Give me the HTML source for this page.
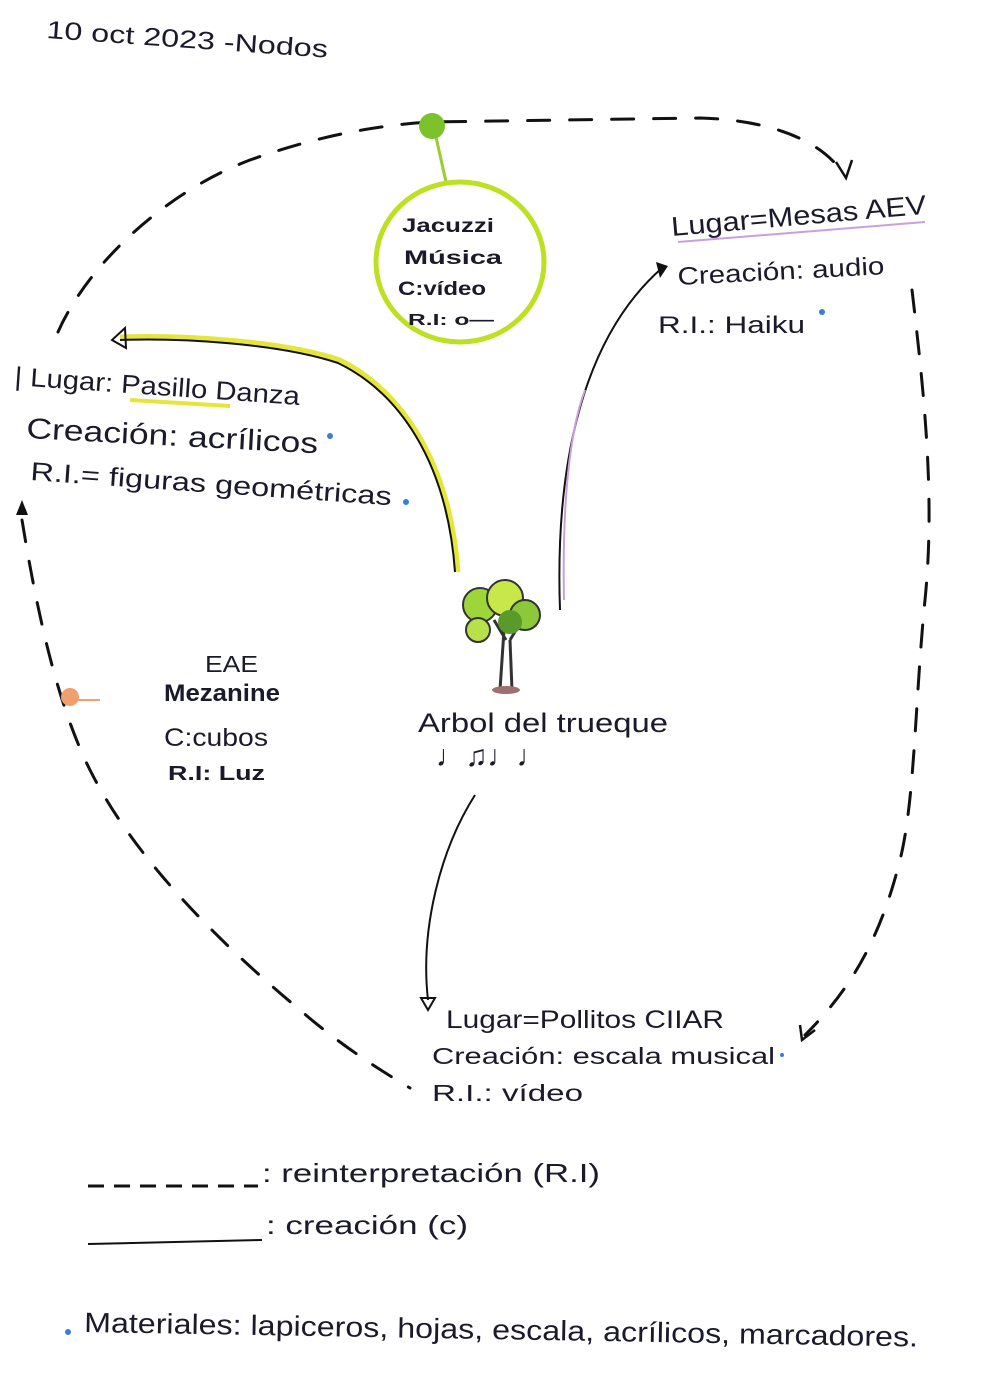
<!DOCTYPE html>
<html><head><meta charset="utf-8"><style>
html,body{margin:0;padding:0;background:#fff;}
svg{display:block}
text{font-family:"Liberation Sans",sans-serif;fill:#1a1a2a;}
</style></head><body>
<svg width="982" height="1386" viewBox="0 0 982 1386" xmlns="http://www.w3.org/2000/svg">
<rect width="982" height="1386" fill="#fff"/>
<text x="46" y="38" font-size="25" textLength="282" lengthAdjust="spacingAndGlyphs" transform="rotate(4 46 38)">10 oct 2023 -Nodos</text>

<g fill="none" stroke="#111" stroke-width="3" stroke-dasharray="22 20" stroke-linecap="round">
<path d="M58,332 C90,260 170,190 250,160 C320,135 380,125 430,122 L700,118 C770,120 820,140 842,172"/>
<path d="M912,290 C925,400 935,500 925,600 C915,700 915,800 900,860 C880,940 850,990 805,1035"/>
<path d="M22,520 C35,600 55,700 90,770 C140,870 240,960 300,1010 C340,1045 380,1070 410,1088"/>
</g>
<path d="M836,162 L846,178 L852,160" fill="none" stroke="#111" stroke-width="2.5"/>
<path d="M800,1025 L802,1040 L815,1030" fill="none" stroke="#111" stroke-width="2.5"/>
<path d="M16,515 L22,500 L28,515 Z" fill="#111"/>

<line x1="434" y1="128" x2="446" y2="182" stroke="#9acd32" stroke-width="3"/>
<circle cx="432" cy="126" r="13" fill="#7cc22a"/>
<ellipse cx="460" cy="262" rx="84" ry="80" fill="none" stroke="#bde022" stroke-width="5"/>
<text x="402" y="232" font-size="19" font-weight="bold" textLength="92" lengthAdjust="spacingAndGlyphs">Jacuzzi</text>
<text x="404" y="264" font-size="19" font-weight="bold" textLength="98" lengthAdjust="spacingAndGlyphs">Música</text>
<text x="398" y="295" font-size="19" font-weight="bold" textLength="88" lengthAdjust="spacingAndGlyphs">C:vídeo</text>
<text x="408" y="325" font-size="16" font-weight="bold" textLength="86" lengthAdjust="spacingAndGlyphs">R.I: o—</text>

<path d="M458,572 C450,460 400,390 340,360 C280,340 180,335 120,337" fill="none" stroke="#e6e63a" stroke-width="5"/>
<path d="M455,572 C447,460 398,392 338,363 C278,343 180,338 120,340" fill="none" stroke="#111" stroke-width="2"/>
<path d="M125,328 L112,340 L126,348 Z" fill="none" stroke="#111" stroke-width="2"/>
<path d="M560,610 C555,470 580,340 662,268" fill="none" stroke="#111" stroke-width="2"/>
<path d="M564,600 C562,500 570,430 585,390" fill="none" stroke="#c9a0dc" stroke-width="2"/>
<path d="M656,262 L668,266 L660,278 Z" fill="#111"/>
<path d="M475,795 C440,850 420,930 428,1000" fill="none" stroke="#111" stroke-width="2"/>
<path d="M421,998 L428,1010 L435,998 Z" fill="none" stroke="#111" stroke-width="2"/>

<text x="672" y="236" font-size="27" textLength="256" lengthAdjust="spacingAndGlyphs" transform="rotate(-5 672 236)">Lugar=Mesas AEV</text>
<line x1="678" y1="242" x2="925" y2="222" stroke="#c9a0dc" stroke-width="2"/>
<text x="678" y="285" font-size="25" textLength="207" lengthAdjust="spacingAndGlyphs" transform="rotate(-3 678 285)">Creación: audio</text>
<text x="658" y="333" font-size="24" textLength="147" lengthAdjust="spacingAndGlyphs">R.I.: Haiku</text>
<circle cx="822" cy="312" r="3" fill="#3a7be0"/>

<text x="14" y="385" font-size="26" textLength="286" lengthAdjust="spacingAndGlyphs" transform="rotate(4 14 385)">| Lugar: Pasillo Danza</text>
<line x1="130" y1="400" x2="230" y2="406" stroke="#e6e63a" stroke-width="4"/>
<text x="26" y="438" font-size="29" textLength="292" lengthAdjust="spacingAndGlyphs" transform="rotate(3 26 438)">Creación: acrílicos</text>
<circle cx="330" cy="436" r="3" fill="#3a7be0"/>
<text x="30" y="480" font-size="26" textLength="362" lengthAdjust="spacingAndGlyphs" transform="rotate(4 30 480)">R.I.= figuras geométricas</text>
<circle cx="406" cy="502" r="3" fill="#3a7be0"/>

<circle cx="70" cy="697" r="9" fill="#f0a070"/>
<line x1="78" y1="700" x2="100" y2="700" stroke="#f0a070" stroke-width="2"/>
<text x="205" y="672" font-size="23" textLength="53" lengthAdjust="spacingAndGlyphs">EAE</text>
<text x="164" y="701" font-size="24" font-weight="bold" textLength="116" lengthAdjust="spacingAndGlyphs">Mezanine</text>
<text x="164" y="746" font-size="25" textLength="104" lengthAdjust="spacingAndGlyphs">C:cubos</text>
<text x="168" y="780" font-size="20" font-weight="bold" textLength="97" lengthAdjust="spacingAndGlyphs">R.I: Luz</text>

<path d="M500,690 L504,630 M512,690 L510,640 M506,640 L494,620 M510,640 L522,620" stroke="#333" stroke-width="3" fill="none"/>
<ellipse cx="506" cy="690" rx="14" ry="4" fill="#a07070"/>
<circle cx="480" cy="605" r="17" fill="#9ed63a" stroke="#333" stroke-width="2"/>
<circle cx="505" cy="598" r="18" fill="#c8e84a" stroke="#333" stroke-width="2"/>
<circle cx="525" cy="615" r="15" fill="#8cc83a" stroke="#333" stroke-width="2"/>
<circle cx="478" cy="630" r="12" fill="#b8e04a" stroke="#333" stroke-width="2"/>
<circle cx="510" cy="622" r="12" fill="#5a9a2a"/>
<text x="418" y="732" font-size="27" textLength="250" lengthAdjust="spacingAndGlyphs">Arbol del trueque</text>
<text x="436" y="766" font-size="30" font-weight="bold" textLength="110" lengthAdjust="spacingAndGlyphs">♩♫♩♩</text>

<text x="446" y="1028" font-size="25" textLength="278" lengthAdjust="spacingAndGlyphs">Lugar=Pollitos CIIAR</text>
<text x="432" y="1064" font-size="23" textLength="343" lengthAdjust="spacingAndGlyphs">Creación: escala musical</text>
<circle cx="782" cy="1055" r="2" fill="#3a7be0"/>
<text x="432" y="1101" font-size="23" textLength="151" lengthAdjust="spacingAndGlyphs">R.I.: vídeo</text>

<line x1="88" y1="1186" x2="258" y2="1186" stroke="#111" stroke-width="3" stroke-dasharray="16 10"/>
<text x="262" y="1182" font-size="26" textLength="338" lengthAdjust="spacingAndGlyphs">: reinterpretación (R.I)</text>
<line x1="88" y1="1244" x2="262" y2="1240" stroke="#111" stroke-width="2"/>
<text x="266" y="1234" font-size="26" textLength="202" lengthAdjust="spacingAndGlyphs">: creación (c)</text>
<circle cx="68" cy="1332" r="3" fill="#3a7be0"/>
<text x="84" y="1332" font-size="28" textLength="834" lengthAdjust="spacingAndGlyphs" transform="rotate(1 84 1332)">Materiales: lapiceros, hojas, escala, acrílicos, marcadores.</text>
</svg>
</body></html>
